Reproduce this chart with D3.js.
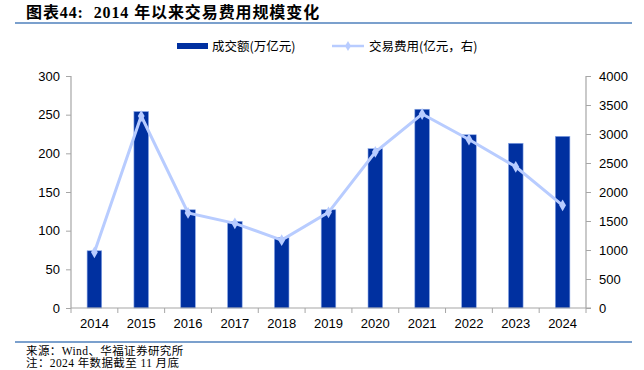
<!DOCTYPE html>
<html><head><meta charset="utf-8">
<script src="https://cdn.jsdelivr.net/npm/d3@7"></script>
<style>body{margin:0;background:#fff}svg{display:block}</style>
</head><body>
<svg id="c" width="644" height="370"></svg>
<script>
const years = ["2014","2015","2016","2017","2018","2019","2020","2021","2022","2023","2024"];
const turnover = [74, 254, 127, 112, 91, 127, 206, 257, 224, 213, 222];
const fees = [960, 3310, 1640, 1460, 1170, 1650, 2690, 3345, 2905, 2435, 1770];
const leftTicks = [0,50,100,150,200,250,300];
const rightTicks = [0,500,1000,1500,2000,2500,3000,3500,4000];

const svg = d3.select("#c");
const L = 71, R = 586, T = 76, B = 308;
const x = d3.scaleBand().domain(years).range([L, R]).paddingInner(0).paddingOuter(0);
const yL = d3.scaleLinear().domain([0,300]).range([B,T]);
const yR = d3.scaleLinear().domain([0,4000]).range([B,T]);
const axisColor = "#a6a6a6";
const sans = "'Liberation Sans', Arial, sans-serif";
const cjk = "'Noto Sans CJK SC', sans-serif";
const serif = "'Liberation Serif','Noto Sans CJK SC',serif";

// title
svg.append("text").attr("x",26).attr("y",18).attr("font-family",serif)
  .attr("font-weight","bold").attr("font-size",16).attr("letter-spacing",0.9).attr("fill","#000")
  .text("图表44:\u00a0\u00a02014 年以来交易费用规模变化");
svg.append("line").attr("x1",15).attr("x2",632).attr("y1",23).attr("y2",23).attr("stroke","#4f81bd").attr("stroke-width",1.5);

// bars
const bw = 14.6;
svg.append("g").selectAll("rect").data(years).join("rect")
  .attr("x", d => x(d) + x.bandwidth()/2 - bw/2)
  .attr("width", bw)
  .attr("y", (d,i) => yL(turnover[i]))
  .attr("height", (d,i) => B - yL(turnover[i]))
  .attr("fill","#0030a0").attr("stroke","#8aa8e8").attr("stroke-width",0.6);

// axes
const gL = svg.append("g").attr("transform",`translate(${L},0)`)
  .call(d3.axisLeft(yL).tickValues(leftTicks).tickSize(5).tickPadding(6).tickFormat(d3.format("d")));
const gR = svg.append("g").attr("transform",`translate(${R},0)`)
  .call(d3.axisRight(yR).tickValues(rightTicks).tickSize(5).tickPadding(8).tickFormat(d3.format("d")));
const gX = svg.append("g").attr("transform",`translate(0,${B})`)
  .call(d3.axisBottom(x).tickSize(0).tickPadding(11));
// x tick marks between categories
svg.append("g").selectAll("line").data(d3.range(years.length+1)).join("line")
  .attr("x1", i => L + i*x.step()).attr("x2", i => L + i*x.step())
  .attr("y1", B).attr("y2", B+5).attr("stroke", axisColor);
[gL,gR,gX].forEach(g => {
  g.selectAll(".domain").attr("stroke",axisColor).attr("stroke-width",1.2);
  g.selectAll(".tick line").attr("stroke",axisColor);
  g.selectAll("text").attr("font-family",sans).attr("font-size",13).attr("fill","#000");
});
gL.select(".domain").attr("d",`M0,${T}V${B}`);
gR.select(".domain").attr("d",`M0,${T}V${B}`);
gX.select(".domain").attr("d",`M${L},0H${R+5}`);

// line
const line = d3.line().x((d,i) => x(years[i]) + x.bandwidth()/2).y(d => yR(d));
svg.append("path").datum(fees).attr("d", line).attr("fill","none")
  .attr("stroke","#b8ccff").attr("stroke-width",3);
svg.append("g").selectAll("path").data(fees).join("path")
  .attr("transform",(d,i) => `translate(${x(years[i]) + x.bandwidth()/2},${yR(d)})`)
  .attr("d", d3.symbol(d3.symbolDiamond, 40)).attr("fill","#b8ccff");

// legend
svg.append("rect").attr("x",177).attr("y",43).attr("width",31).attr("height",6).attr("fill","#0030a0");
svg.append("text").attr("x",212).attr("y",51).attr("font-family",cjk).attr("font-size",12.5).text("成交额(万亿元)");
svg.append("line").attr("x1",332).attr("x2",364).attr("y1",46).attr("y2",46).attr("stroke","#b8ccff").attr("stroke-width",2.5);
svg.append("path").attr("transform","translate(348,46)").attr("d",d3.symbol(d3.symbolDiamond,30)).attr("fill","#b8ccff");
svg.append("text").attr("x",369).attr("y",51).attr("font-family",cjk).attr("font-size",12.5).text("交易费用(亿元，右)");

// footer
svg.append("line").attr("x1",15).attr("x2",632).attr("y1",342).attr("y2",342).attr("stroke","#4f81bd").attr("stroke-width",1.5);
svg.append("text").attr("x",26).attr("y",355).attr("font-family",serif).attr("font-size",11.5).attr("letter-spacing",0.4).text("来源：Wind、华福证券研究所");
svg.append("text").attr("x",26).attr("y",367).attr("font-family",serif).attr("font-size",11.5).attr("letter-spacing",0.4).text("注：2024 年数据截至 11 月底");
</script>
</body></html>
